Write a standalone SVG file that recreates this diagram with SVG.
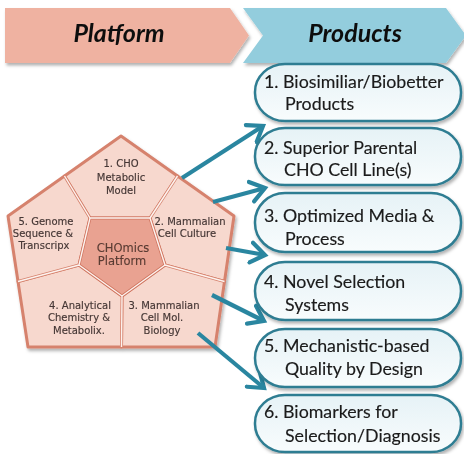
<svg xmlns="http://www.w3.org/2000/svg" width="464" height="454" viewBox="0 0 464 454">
  <defs>
    <filter id="shadow" x="-10%" y="-10%" width="130%" height="140%">
      <feDropShadow dx="1.5" dy="2.5" stdDeviation="1.5" flood-color="#000" flood-opacity="0.3"/>
    </filter>
    <linearGradient id="boxFill" x1="0" y1="0" x2="0" y2="1">
      <stop offset="0" stop-color="#e6f2f6"/>
      <stop offset="1" stop-color="#f8fcfd"/>
    </linearGradient>
    <marker id="head" markerUnits="userSpaceOnUse" markerWidth="22" markerHeight="26" refX="16" refY="13" orient="auto" viewBox="0 0 22 26">
      <path d="M2,3 L16,13 L2,23" fill="none" stroke="#2a86a0" stroke-width="4.2" stroke-linecap="round" stroke-linejoin="miter"/>
    </marker>
  </defs>
  <style>
    .hdr { font-family: Lato, "Liberation Sans", sans-serif; font-size: 25px; font-weight: bold; font-style: italic; fill: #111; text-anchor: middle; }
    .box { fill: url(#boxFill); stroke: #2f7d92; stroke-width: 2.5; }
    .btxt { font-family: Lato, "Liberation Sans", sans-serif; font-size: 17.8px; fill: #1a1a1a; stroke: #1a1a1a; stroke-width: 0.15; }
    .seg { fill: #f7d8ce; stroke: #d6826d; stroke-width: 3; stroke-linejoin: round; }
    .core { fill: #e9a291; stroke: #d07560; stroke-width: 3; stroke-linejoin: round; }
    .gap { stroke: #fdf3ef; stroke-width: 1.4; fill: none; }
    .ptxt { font-family: "DejaVu Sans", sans-serif; font-size: 10px; fill: #453735; stroke: #453735; stroke-width: 0.15; text-anchor: middle; }
    .ctxt { font-family: "DejaVu Sans", sans-serif; font-size: 11.5px; fill: #5a3c34; stroke: #5a3c34; stroke-width: 0.15; text-anchor: middle; }
    .arrow { stroke: #2a86a0; stroke-width: 4.2; fill: none; }
  </style>

  <!-- header chevrons -->
  <g id="hdr-platform" filter="url(#shadow)">
    <polygon points="5,8 230,8 249,35.5 230,63 5,63" fill="#efb2a1"/>
    <text class="hdr" x="119" y="42">Platform</text>
  </g>
  <g id="hdr-products" filter="url(#shadow)">
    <polygon points="243,8 446,8 466,35.5 446,63 243,63 263,35.5" fill="#93cddd"/>
    <text class="hdr" x="355" y="42">Products</text>
  </g>

  <!-- platform pentagon -->
  <g id="platform" filter="url(#shadow)">
    <g id="seg1">
      <polygon class="seg" points="64.5,176 121,136 177.5,176 150,218 90,218"/>
      <text class="ptxt" x="121" y="167">1. CHO</text>
      <text class="ptxt" x="121" y="181">Metabolic</text>
      <text class="ptxt" x="121" y="194">Model</text>
    </g>
    <g id="seg2">
      <polygon class="seg" points="177.5,176 234,216 224.5,281.5 165,265 150,218"/>
      <text class="ptxt" x="190" y="225">2. Mammalian</text>
      <text class="ptxt" x="187" y="237">Cell Culture</text>
    </g>
    <g id="seg3">
      <polygon class="seg" points="224.5,281.5 215,347 121.5,347 122,296 165,265"/>
      <text class="ptxt" x="164" y="308.5">3. Mammalian</text>
      <text class="ptxt" x="162" y="321">Cell Mol.</text>
      <text class="ptxt" x="162" y="333.5">Biology</text>
    </g>
    <g id="seg4">
      <polygon class="seg" points="121.5,347 28,347 18,281.5 79,265 122,296"/>
      <text class="ptxt" x="80" y="308.5">4. Analytical</text>
      <text class="ptxt" x="79" y="321">Chemistry &amp;</text>
      <text class="ptxt" x="79" y="333.5">Metabolix.</text>
    </g>
    <g id="seg5">
      <polygon class="seg" points="18,281.5 8,216 64.5,176 90,218 79,265"/>
      <text class="ptxt" x="46" y="225">5. Genome</text>
      <text class="ptxt" x="43" y="237">Sequence &amp;</text>
      <text class="ptxt" x="44" y="249">Transcripx</text>
    </g>
    <g id="core">
      <polygon class="core" points="90,218 150,218 165,265 122,296 79,265"/>
      <text class="ctxt" x="123" y="252">CHOmics</text>
      <text class="ctxt" x="122" y="265">Platform</text>
    </g>
    <!-- light seams between segments -->
    <path class="gap" d="M64.5,176 L90,218 M177.5,176 L150,218 M224.5,281.5 L165,265 M121.5,347 L122,296 M18,281.5 L79,265 M90,218 L150,218 L165,265 L122,296 L79,265 Z"/>
  </g>

  <!-- connectors -->
  <g id="connectors">
    <line class="arrow" x1="182" y1="178" x2="263" y2="126" marker-end="url(#head)"/>
    <line class="arrow" x1="213" y1="202" x2="265" y2="188" marker-end="url(#head)"/>
    <line class="arrow" x1="226" y1="248" x2="265" y2="255" marker-end="url(#head)"/>
    <line class="arrow" x1="212" y1="295" x2="264" y2="321" marker-end="url(#head)"/>
    <line class="arrow" x1="198" y1="333" x2="264" y2="388" marker-end="url(#head)"/>
  </g>

  <!-- product boxes -->
  <g id="prod1" filter="url(#shadow)">
    <rect class="box" x="255" y="64" width="206" height="57" rx="30" ry="28"/>
    <text class="btxt" x="264" y="88">1. Biosimiliar/Biobetter</text>
    <text class="btxt" x="285" y="110">Products</text>
  </g>
  <g id="prod2" filter="url(#shadow)">
    <rect class="box" x="255" y="128" width="206" height="57" rx="30" ry="28"/>
    <text class="btxt" x="264" y="154">2. Superior Parental</text>
    <text class="btxt" x="284" y="176">CHO Cell Line(s)</text>
  </g>
  <g id="prod3" filter="url(#shadow)">
    <rect class="box" x="255" y="193" width="206" height="59" rx="30" ry="29"/>
    <text class="btxt" x="264" y="222">3. Optimized Media &amp;</text>
    <text class="btxt" x="285" y="245">Process</text>
  </g>
  <g id="prod4" filter="url(#shadow)">
    <rect class="box" x="255" y="262" width="206" height="58" rx="30" ry="29"/>
    <text class="btxt" x="264" y="288">4. Novel Selection</text>
    <text class="btxt" x="285" y="311">Systems</text>
  </g>
  <g id="prod5" filter="url(#shadow)">
    <rect class="box" x="255" y="329" width="206" height="58" rx="30" ry="29"/>
    <text class="btxt" x="264" y="352">5. Mechanistic-based</text>
    <text class="btxt" x="285" y="375">Quality by Design</text>
  </g>
  <g id="prod6" filter="url(#shadow)">
    <rect class="box" x="255" y="395" width="206" height="57" rx="30" ry="28"/>
    <text class="btxt" x="264" y="418">6. Biomarkers for</text>
    <text class="btxt" x="285" y="442">Selection/Diagnosis</text>
  </g>
</svg>
